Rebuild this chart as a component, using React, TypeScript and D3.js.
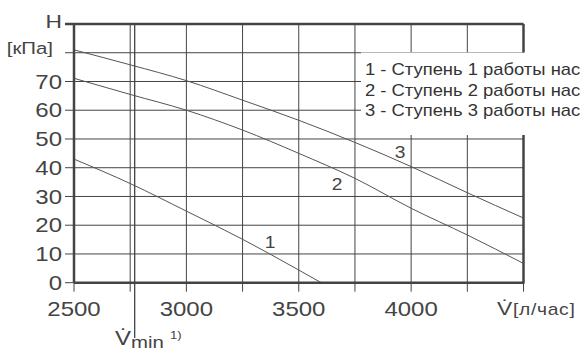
import React from "react";
import * as d3 from "d3";

const flows = [2500, 2750, 3000, 3250, 3500, 3750, 4000, 4250, 4500];
const stage3 = [81, 75.8, 70.3, 63.5, 56.5, 48.8, 40.4, 31.3, 22.5];
const stage2 = [71.1, 65.5, 60, 53.1, 45, 36.3, 25.9, 16.6, 6.7];
const stage1Flows = [2500, 2750, 3000, 3250, 3500, 3600];
const stage1 = [43, 34.5, 24.9, 15.1, 4.4, 0];
const xTickLabels = [2500, 3000, 3500, 4000];
const yTickLabels = [0, 10, 20, 30, 40, 50, 60, 70];
const legendItems = [
  "1 - Ступень 1 работы нас",
  "2 - Ступень 2 работы нас",
  "3 - Ступень 3 работы нас",
];
const vMin = 2770;

const W = 584;
const H = 351;
const INK = "#444";
const FONT = "'Liberation Sans', Arial, sans-serif";

function T({ x, y, size, anchor = "start", children, fill = INK, sx = 1.2, ls = 0 }: any) {
  return (
    <text
      transform={`translate(${x},${y}) scale(${sx},1)`}
      fontSize={size}
      textAnchor={anchor}
      fill={fill}
      fontFamily={FONT}
      letterSpacing={ls}
    >
      {children}
    </text>
  );
}

export default function App() {
  const x = d3.scaleLinear().domain([2500, 4500]).range([74, 523.5]);
  const y = d3.scaleLinear().domain([0, 90]).range([282.7, 24]);
  const xGrid = d3.range(2500, 4501, 250);
  const yGrid = d3.range(0, 91, 10);
  const line = d3
    .line<[number, number]>()
    .x((d) => x(d[0]))
    .y((d) => y(d[1]))
    .curve(d3.curveMonotoneX);
  const s3 = flows.map((f, i) => [f, stage3[i]] as [number, number]);
  const s2 = flows.map((f, i) => [f, stage2[i]] as [number, number]);
  const s1 = stage1Flows.map((f, i) => [f, stage1[i]] as [number, number]);
  const x0 = x(2500);
  const x1 = x(4500);
  const yb = y(0);
  const yt = y(90);

  return (
    <svg
      width={W}
      height={H}
      style={{ position: "absolute", left: 0, top: 0, background: "#fff" }}
    >
      <rect width={W} height={H} fill="#fff" />
      {yGrid.map((v) => (
        <line
          key={"h" + v}
          x1={65}
          x2={x1}
          y1={y(v)}
          y2={y(v)}
          stroke={INK}
          strokeWidth={1}
        />
      ))}
      {xGrid.map((v) => (
        <line
          key={"v" + v}
          x1={x(v)}
          x2={x(v)}
          y1={yt}
          y2={yb + 9}
          stroke={INK}
          strokeWidth={1}
        />
      ))}
      <rect x={361} y={52.5} width={W - 361} height={82.5} fill="#fff" />
      {[s1, s2, s3].map((s, i) => (
        <path key={i} d={line(s) || ""} fill="none" stroke="#555" strokeWidth={1} />
      ))}
      <line x1={65} x2={x1} y1={yt} y2={yt} stroke={INK} strokeWidth={2.5} />
      <line x1={x0} x2={x1 + 1} y1={yb} y2={yb} stroke={INK} strokeWidth={2.5} />
      <line x1={x0} x2={x0} y1={yt} y2={yb} stroke={INK} strokeWidth={2.5} />
      <line x1={x1} x2={x1} y1={yt} y2={52.5} stroke={INK} strokeWidth={2.5} />
      <line x1={x1} x2={x1} y1={135} y2={yb} stroke={INK} strokeWidth={2.5} />
      <line x1={x(vMin)} x2={x(vMin)} y1={yt} y2={338} stroke={INK} strokeWidth={1.3} />
      {yTickLabels.map((v) => (
        <T key={"yl" + v} x={62} y={y(v) + 7.2} size={20} anchor="end">
          {v}
        </T>
      ))}
      <T x={62} y={28} size={19} anchor="end">H</T>
      <T x={53} y={54} size={17} anchor="end">[кПа]</T>
      {xTickLabels.map((v) => (
        <T key={"xl" + v} x={x(v)} y={316} size={20} anchor="middle">
          {v}
        </T>
      ))}
      <T x={497} y={315} size={19}>V̇</T>
      <T x={513} y={315} size={16} ls={0.6}>[л/час]</T>
      <T x={115} y={345} size={20}>V̇</T>
      <T x={131} y={348} size={17}>min</T>
      <T x={170} y={339} size={11}>1)</T>
      {legendItems.map((t, i) => (
        <T key={"lg" + i} x={365} y={75 + i * 20.7} size={16} fill="#333" sx={1.15}>
          {t}
        </T>
      ))}
      <T x={270} y={248} size={16} anchor="middle">1</T>
      <T x={337} y={190} size={16} anchor="middle">2</T>
      <T x={400} y={158} size={16} anchor="middle">3</T>
    </svg>
  );
}
